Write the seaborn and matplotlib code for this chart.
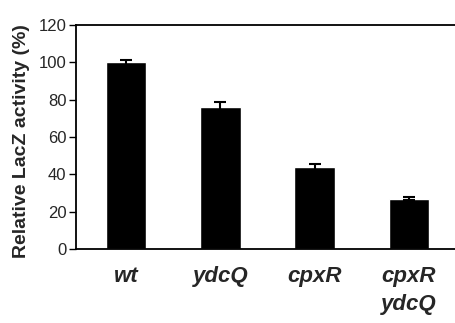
import matplotlib
matplotlib.use("Agg")
import matplotlib.pyplot as plt
import seaborn as sns
import pandas as pd

strains = ["wt", "ydcQ", "cpxR", "cpxR\nydcQ"]
activity = [100, 76, 44, 27]
errors = [1.5, 2.7, 1.5, 0.8]

df = pd.DataFrame({"strain": strains, "activity": activity})

sns.set_style("white")
plt.rcParams["font.family"] = ["Liberation Sans", "DejaVu Sans"]

fig = plt.figure(figsize=(4.56, 3.23), dpi=100)
ax = fig.add_axes([76 / 456, 1 - 249 / 323, 1 - 76 / 456, 224 / 323])

sns.barplot(data=df, x="strain", y="activity", color="black", width=0.43,
            saturation=1, ax=ax)
ax.errorbar(range(len(strains)), activity, yerr=errors, fmt="none",
            ecolor="black", elinewidth=1.5, capsize=4, capthick=1.5)

ax.set_ylim(0, 120)
ax.set_xlim(-0.53, 3.5)
ax.set_yticks(range(0, 121, 20))
ax.set_ylabel("Relative LacZ activity (%)", fontsize=14, fontweight="bold")
ax.yaxis.set_label_coords(-0.122, 0.48)
ax.set_xlabel("")

# category labels without ticks, boundary ticks between groups
ax.set_xticks(range(len(strains)))
ax.set_xticklabels(strains, fontsize=16, fontweight="bold", style="italic",
                   linespacing=1.45)
ax.tick_params(axis="x", length=0, pad=12)
ax.set_xticks([0.5, 1.5, 2.5], minor=True)
ax.tick_params(axis="x", which="minor", length=4, width=1, direction="out",
               color="black")
ax.tick_params(axis="y", length=5, width=1, direction="out", color="black",
               labelsize=12, pad=2, left=True)

for side in ["left", "bottom", "top"]:
    ax.spines[side].set_color("black")
    ax.spines[side].set_linewidth(1.3)
ax.spines["right"].set_visible(False)

fig.savefig("out.png", dpi=100)
plt.close()
